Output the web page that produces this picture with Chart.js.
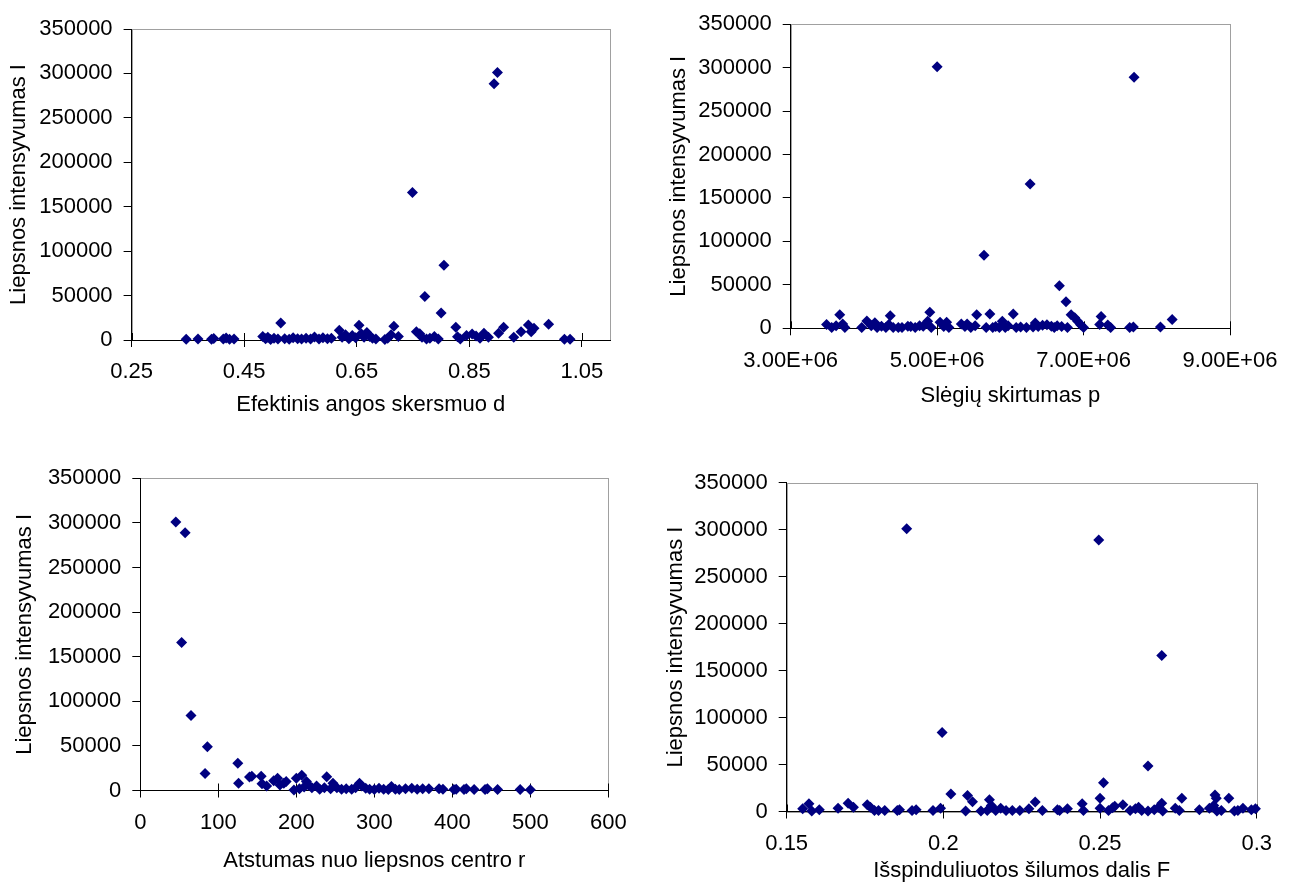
<!DOCTYPE html>
<html>
<head>
<meta charset="utf-8">
<script src="https://cdn.jsdelivr.net/npm/chart.js@4.4.1/dist/chart.umd.min.js"></script>
<style>
  body { margin: 0; background: #fff; width: 1294px; height: 884px; position: relative; overflow: hidden; }
  canvas { position: absolute; }
</style>
</head>
<body>
<canvas id="chartD"></canvas>
<canvas id="chartP"></canvas>
<canvas id="chartR"></canvas>
<canvas id="chartF"></canvas>
<script>
// Shared y axis
const yTitle = 'Liepsnos intensyvumas I';
const yTicks = [0, 50000, 100000, 150000, 200000, 250000, 300000, 350000];

// Panel 1: effective orifice diameter d
const dTitle = 'Efektinis angos skersmuo d';
const dTicks = [0.25, 0.45, 0.65, 0.85, 1.05];
const dValues = [0.347, 0.368, 0.392, 0.396, 0.413, 0.418, 0.424, 0.432, 0.483, 0.488, 0.492, 0.497, 0.503, 0.510, 0.515,
  0.522, 0.530, 0.537, 0.545, 0.552, 0.560, 0.568, 0.575, 0.583, 0.590, 0.598, 0.605, 0.619, 0.624, 0.630, 0.636, 0.642,
  0.648, 0.654, 0.658, 0.663, 0.668, 0.673, 0.678, 0.684, 0.700, 0.705, 0.711, 0.716, 0.724, 0.749, 0.756, 0.762, 0.766,
  0.771, 0.774, 0.780, 0.788, 0.795, 0.800, 0.805, 0.826, 0.829, 0.834, 0.845, 0.855, 0.862, 0.869, 0.876, 0.884, 0.894,
  0.900, 0.902, 0.911, 0.929, 0.942, 0.955, 0.960, 0.965, 0.991, 1.019, 1.029];
const dIntensity = [800, 1000, 900, 1800, 1200, 2200, 800, 1000, 4000, 1500, 3000, 600, 2000, 1000, 19000,
  1500, 800, 2500, 1500, 1000, 2000, 1200, 3500, 1000, 2500, 1500, 2000, 11000, 3000, 6000, 1500, 5000,
  2500, 16500, 7000, 3000, 8500, 4000, 2000, 1000, 500, 2000, 6000, 15500, 4000, 166000, 9400, 7000, 3000,
  49000, 1000, 2000, 4000, 1000, 30500, 84000, 14300, 3750, 1000, 5000, 6800, 4500, 1900, 7500, 3000, 288500,
  301000, 7500, 14300, 3000, 9400, 16900, 9400, 13100, 17600, 750, 750];

// Panel 2: pressure difference p
const pTitle = 'Slėgių skirtumas p';
const pTicks = [3e6, 5e6, 7e6, 9e6];
const pValues = [3.49e6, 3.56e6, 3.62e6, 3.67e6, 3.71e6, 3.74e6, 3.97e6, 4.04e6, 4.10e6, 4.15e6, 4.18e6, 4.24e6, 4.30e6,
  4.34e6, 4.36e6, 4.40e6, 4.47e6, 4.52e6, 4.60e6, 4.64e6, 4.70e6, 4.76e6, 4.81e6, 4.87e6, 4.90e6, 4.92e6, 5.00e6,
  5.04e6, 5.09e6, 5.13e6, 5.16e6, 5.33e6, 5.38e6, 5.41e6, 5.46e6, 5.52e6, 5.54e6, 5.64e6, 5.67e6, 5.72e6, 5.76e6,
  5.80e6, 5.85e6, 5.89e6, 5.93e6, 5.97e6, 6.04e6, 6.08e6, 6.14e6, 6.22e6, 6.27e6, 6.31e6, 6.34e6, 6.38e6, 6.44e6,
  6.50e6, 6.56e6, 6.60e6, 6.64e6, 6.67e6, 6.70e6, 6.76e6, 6.78e6, 6.83e6, 6.88e6, 6.92e6, 6.96e6, 7.00e6, 7.22e6,
  7.24e6, 7.33e6, 7.37e6, 7.63e6, 7.68e6, 7.69e6, 8.05e6, 8.21e6];
const pIntensity = [4500, 1000, 3000, 15500, 5000, 800, 800, 8500, 3000, 6500, 800, 2500, 1000,
  4500, 14500, 800, 800, 1000, 2500, 2000, 1000, 3000, 2500, 8200, 18500, 800, 301000,
  7000, 2000, 7000, 1000, 5000, 2000, 5000, 800, 3000, 15700, 84000, 800, 16500, 1000,
  2000, 800, 8000, 1000, 3000, 16500, 800, 1500, 1000, 166000, 1500, 6000, 2000, 3500,
  4000, 2500, 1000, 3000, 49000, 2000, 30500, 800, 15700, 12000, 8000, 4000, 1000, 4500,
  13500, 3700, 800, 1000, 1500, 289000, 1500, 10000];

// Panel 3: distance from flame centre r
const rTitle = 'Atstumas nuo liepsnos centro r';
const rTicks = [0, 100, 200, 300, 400, 500, 600];
const rValues = [45.5, 57.5, 53, 65, 86, 83, 125, 126, 140, 143, 155, 156, 162, 171, 176, 179, 184, 187, 197, 200,
  207, 204, 210, 213, 216, 220, 226, 230, 236, 239, 244, 247, 252, 258, 264, 271, 276, 281, 284, 289, 294, 300,
  306, 312, 318, 322, 327, 332, 340, 348, 355, 362, 370, 383, 388, 402, 405, 415, 418, 428, 442, 445, 458, 487, 500];
const rIntensity = [301000, 289000, 166000, 84000, 49000, 19000, 30500, 8200, 15000, 16000, 16000, 7500, 5000, 11000,
  13800, 6300, 8000, 10000, 700, 13800, 17000, 2000, 4000, 10000, 6000, 3000, 5000, 1500, 3000, 15500, 2000, 8000,
  3000, 1500, 2000, 1500, 3000, 8000, 5000, 2500, 1500, 1000, 2500, 1500, 1000, 4500, 1500, 1000, 2000, 2500, 1500,
  2000, 2000, 2000, 1500, 1000, 1500, 1000, 2000, 1000, 1000, 2000, 1000, 1000, 900];

// Panel 4: radiated heat fraction F
const fTitle = 'Išspinduliuotos šilumos dalis F';
const fTicks = [0.15, 0.2, 0.25, 0.3];
const fValues = [0.1551, 0.1571, 0.1580, 0.1604, 0.1664, 0.1696, 0.1713, 0.1757, 0.1767, 0.1780, 0.1793, 0.1813,
  0.1853, 0.1860, 0.1883, 0.1900, 0.1913, 0.1967, 0.1991, 0.1996, 0.2024, 0.2071, 0.2077, 0.2093, 0.2120, 0.2140,
  0.2147, 0.2153, 0.2167, 0.2183, 0.2200, 0.2220, 0.2244, 0.2273, 0.2293, 0.2316, 0.2364, 0.2371, 0.2396, 0.2443,
  0.2447, 0.2496, 0.2500, 0.2500, 0.2511, 0.2527, 0.2540, 0.2547, 0.2573, 0.2596, 0.2613, 0.2623, 0.2633, 0.2653,
  0.2653, 0.2673, 0.2687, 0.2697, 0.2697, 0.2700, 0.2740, 0.2753, 0.2761, 0.2817, 0.2849, 0.2863, 0.2867, 0.2871,
  0.2873, 0.2887, 0.2911, 0.2929, 0.2940, 0.2956, 0.2983, 0.2996];
const fIntensity = [2800, 8200, 500, 1800, 3500, 8900, 4600, 7100, 4500, 1000, 1000, 1000,
  1000, 1800, 301000, 1000, 1800, 1000, 3500, 84000, 18500, 500, 17000, 10500, 500, 1000,
  12400, 6400, 1000, 3500, 1000, 1000, 1000, 2800, 10000, 1000, 1800, 1000, 2800, 8200,
  1000, 289000, 14200, 3500, 30500, 1000, 4000, 5500, 7100, 1000, 2800, 4500, 1000, 48500,
  500, 1800, 4600, 166000, 8900, 500, 3500, 1000, 14200, 1800, 3500, 6400, 17500, 14200,
  500, 1000, 14200, 500, 1000, 3500, 1800, 2800];

Chart.defaults.font.family = '"Liberation Sans", Arial, sans-serif';
Chart.defaults.font.size = 22;
Chart.defaults.color = '#000';

// gray frame round the plot area, and the inner half of the x tick marks
const framePlugin = {
  id: 'frame',
  beforeDraw(chart) {
    const { ctx, chartArea: a } = chart;
    ctx.save();
    ctx.strokeStyle = '#a0a0a0';
    ctx.lineWidth = 1;
    ctx.strokeRect(Math.round(a.left) + 0.5, Math.round(a.top) + 0.5, Math.round(a.right - a.left), Math.round(a.bottom - a.top));
    ctx.restore();
  },
  beforeDatasetsDraw(chart) {
    const { ctx, chartArea: a, scales } = chart;
    ctx.save();
    ctx.strokeStyle = '#000';
    ctx.lineWidth = 1;
    scales.x.ticks.forEach(t => {
      const px = Math.round(scales.x.getPixelForValue(t.value)) + 0.5;
      ctx.beginPath();
      ctx.moveTo(px, a.bottom - 7);
      ctx.lineTo(px, a.bottom);
      ctx.stroke();
    });
    ctx.restore();
  }
};

function makeChart(id, box, area, yTitleX, xTitleY, xs, ys, xTicks, xMax, xFormat, xTitle) {
  const canvas = document.getElementById(id);
  canvas.width = box.w;
  canvas.height = box.h;
  canvas.style.left = box.x + 'px';
  canvas.style.top = box.y + 'px';

  const lh = 22 * 1.2;
  const yW = area.l - (yTitleX - lh / 2);
  const xH = (xTitleY - area.b) + lh / 2;

  return new Chart(canvas, {
    type: 'scatter',
    data: {
      datasets: [{
        data: xs.map((x, i) => ({ x: x, y: ys[i] })),
        pointStyle: 'rectRot',
        radius: 5.5,
        hoverRadius: 5.5,
        backgroundColor: '#000080',
        borderColor: '#000080',
        borderWidth: 0,
        clip: false
      }]
    },
    plugins: [framePlugin],
    options: {
      responsive: false,
      animation: false,
      events: [],
      layout: {
        padding: {
          left: area.l - box.x - yW,
          top: area.t - box.y,
          right: box.x + box.w - area.r,
          bottom: box.y + box.h - area.b - xH
        }
      },
      plugins: { legend: { display: false }, tooltip: { enabled: false } },
      scales: {
        x: {
          type: 'linear',
          min: xTicks[0],
          max: xMax,
          afterBuildTicks: s => { s.ticks = xTicks.map(v => ({ value: v })); },
          afterFit: s => { s.height = xH; },
          grid: { display: true, drawOnChartArea: false, drawTicks: true, tickLength: 7, color: '#000' },
          border: { display: true, color: '#000', width: 1 },
          ticks: { padding: 12, maxRotation: 0, callback: v => xFormat(v) },
          title: { display: true, text: xTitle, padding: 0, font: { size: 22 } }
        },
        y: {
          min: 0,
          max: 350000,
          afterBuildTicks: s => { s.ticks = yTicks.map(v => ({ value: v })); },
          afterFit: s => { s.width = yW; },
          grid: { display: true, drawOnChartArea: false, drawTicks: true, tickLength: 8, color: '#000' },
          border: { display: true, color: '#000', width: 1 },
          ticks: { padding: 11, callback: v => String(v) },
          title: { display: true, text: yTitle, padding: 0, font: { size: 22 } }
        }
      }
    }
  });
}

const sci = v => v.toExponential(2).toUpperCase().replace(/E([+-])(\d)$/, 'E$10$2');

makeChart('chartD', { x: 0, y: 0, w: 640, h: 440 }, { l: 131.6, r: 610, t: 29, b: 340 }, 19, 405,
  dValues, dIntensity, dTicks, 1.1, v => v.toFixed(2), dTitle);
makeChart('chartP', { x: 640, y: 0, w: 654, h: 440 }, { l: 790.7, r: 1230, t: 15, b: 328.3 }, 679, 395.5,
  pValues, pIntensity, pTicks, 9e6, sci, pTitle);
makeChart('chartR', { x: 0, y: 440, w: 640, h: 444 }, { l: 140.3, r: 608.3, t: 478.3, b: 790.5 }, 25.4, 860.8,
  rValues, rIntensity, rTicks, 600, v => String(v), rTitle);
makeChart('chartF', { x: 640, y: 440, w: 654, h: 444 }, { l: 786.7, r: 1256.7, t: 482.7, b: 811.5 }, 675.5, 870.5,
  fValues, fIntensity, fTicks, 0.3, v => String(+v.toFixed(2)), fTitle);
</script>
</body>
</html>
